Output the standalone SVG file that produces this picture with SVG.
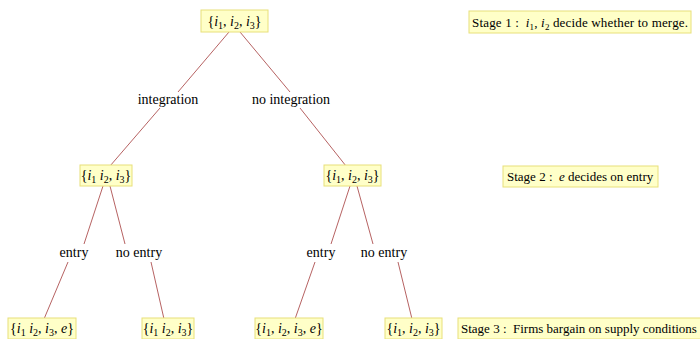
<svg xmlns="http://www.w3.org/2000/svg" width="700" height="339" viewBox="0 0 700 339">
<style>
.box{fill:#ffffc8;stroke:#e8e07a;stroke-width:1}
text{font-family:"Liberation Serif","Times New Roman","DejaVu Serif",serif;font-size:14px;fill:#000}
.c{text-anchor:middle}
.st{font-size:13px}
.i{font-style:italic}
.s{font-size:10px}
.st .s{font-size:9px}
.edge{stroke:#a33a3a;stroke-width:0.8;fill:none}
</style>
<rect width="700" height="339" fill="#fff"/>
<g id="connectors">
<line class="edge" x1="229" y1="32" x2="178" y2="92"/>
<line class="edge" x1="160" y1="108" x2="110" y2="166"/>
<line class="edge" x1="240" y1="32" x2="290" y2="92"/>
<line class="edge" x1="300" y1="108" x2="346" y2="166"/>
<line class="edge" x1="103" y1="186" x2="84" y2="244"/>
<line class="edge" x1="68" y1="262" x2="44" y2="319"/>
<line class="edge" x1="110" y1="186" x2="125" y2="244"/>
<line class="edge" x1="151" y1="262" x2="164" y2="319"/>
<line class="edge" x1="350" y1="186" x2="331" y2="244"/>
<line class="edge" x1="315" y1="262" x2="295" y2="319"/>
<line class="edge" x1="357" y1="186" x2="373" y2="244"/>
<line class="edge" x1="398" y1="262" x2="412" y2="319"/>
</g>
<g id="edge-labels">
<text class="c" x="168" y="104">integration</text>
<text class="c" x="291" y="104">no integration</text>
<text class="c" x="74" y="257">entry</text>
<text class="c" x="139" y="257">no entry</text>
<text class="c" x="321" y="257">entry</text>
<text class="c" x="384" y="257">no entry</text>
</g>
<g id="n-root">
<rect class="box" x="201" y="10" width="67" height="22"/>
<text class="c" x="234.5" y="26">{<tspan class="i">i</tspan><tspan class="s" dy="3">1</tspan><tspan dy="-3">, </tspan><tspan class="i">i</tspan><tspan class="s" dy="3">2</tspan><tspan dy="-3">, </tspan><tspan class="i">i</tspan><tspan class="s" dy="3">3</tspan><tspan dy="-3">}</tspan></text>
</g>
<g id="n-int">
<rect class="box" x="80" y="165" width="52" height="21"/>
<text class="c" x="106" y="180">{<tspan class="i">i</tspan><tspan class="s" dy="3">1</tspan><tspan dy="-3"> </tspan><tspan class="i">i</tspan><tspan class="s" dy="3">2</tspan><tspan dy="-3">, </tspan><tspan class="i">i</tspan><tspan class="s" dy="3">3</tspan><tspan dy="-3">}</tspan></text>
</g>
<g id="n-noint">
<rect class="box" x="324" y="165" width="57" height="21"/>
<text class="c" x="352.5" y="180">{<tspan class="i">i</tspan><tspan class="s" dy="3">1</tspan><tspan dy="-3">, </tspan><tspan class="i">i</tspan><tspan class="s" dy="3">2</tspan><tspan dy="-3">, </tspan><tspan class="i">i</tspan><tspan class="s" dy="3">3</tspan><tspan dy="-3">}</tspan></text>
</g>
<g id="n-ll">
<rect class="box" x="8" y="318" width="68" height="21"/>
<text class="c" x="42" y="333">{<tspan class="i">i</tspan><tspan class="s" dy="3">1</tspan><tspan dy="-3"> </tspan><tspan class="i">i</tspan><tspan class="s" dy="3">2</tspan><tspan dy="-3">, </tspan><tspan class="i">i</tspan><tspan class="s" dy="3">3</tspan><tspan dy="-3">, </tspan><tspan class="i">e</tspan>}</text>
</g>
<g id="n-lr">
<rect class="box" x="142" y="318" width="52" height="21"/>
<text class="c" x="168" y="333">{<tspan class="i">i</tspan><tspan class="s" dy="3">1</tspan><tspan dy="-3"> </tspan><tspan class="i">i</tspan><tspan class="s" dy="3">2</tspan><tspan dy="-3">, </tspan><tspan class="i">i</tspan><tspan class="s" dy="3">3</tspan><tspan dy="-3">}</tspan></text>
</g>
<g id="n-rl">
<rect class="box" x="255" y="318" width="68" height="21"/>
<text class="c" x="289" y="333">{<tspan class="i">i</tspan><tspan class="s" dy="3">1</tspan><tspan dy="-3">, </tspan><tspan class="i">i</tspan><tspan class="s" dy="3">2</tspan><tspan dy="-3">, </tspan><tspan class="i">i</tspan><tspan class="s" dy="3">3</tspan><tspan dy="-3">, </tspan><tspan class="i">e</tspan>}</text>
</g>
<g id="n-rr">
<rect class="box" x="385" y="318" width="57" height="21"/>
<text class="c" x="413.5" y="333">{<tspan class="i">i</tspan><tspan class="s" dy="3">1</tspan><tspan dy="-3">, </tspan><tspan class="i">i</tspan><tspan class="s" dy="3">2</tspan><tspan dy="-3">, </tspan><tspan class="i">i</tspan><tspan class="s" dy="3">3</tspan><tspan dy="-3">}</tspan></text>
</g>
<g id="stage1">
<rect class="box" x="469" y="11" width="222" height="22"/>
<text class="st" x="472" y="27" textLength="216">Stage 1 :&#160;&#160;<tspan class="i">i</tspan><tspan class="s" dy="3">1</tspan><tspan dy="-3">, </tspan><tspan class="i">i</tspan><tspan class="s" dy="3">2</tspan><tspan dy="-3"> decide whether to merge.</tspan></text>
</g>
<g id="stage2">
<rect class="box" x="503" y="166" width="155" height="21"/>
<text class="st" x="507" y="181">Stage 2 :&#160;&#160;<tspan class="i">e</tspan> decides on entry</text>
</g>
<g id="stage3">
<rect class="box" x="458" y="318" width="250" height="21"/>
<text class="st" x="461" y="333">Stage 3 :&#160;&#160;Firms bargain on supply conditions</text>
</g>
</svg>
